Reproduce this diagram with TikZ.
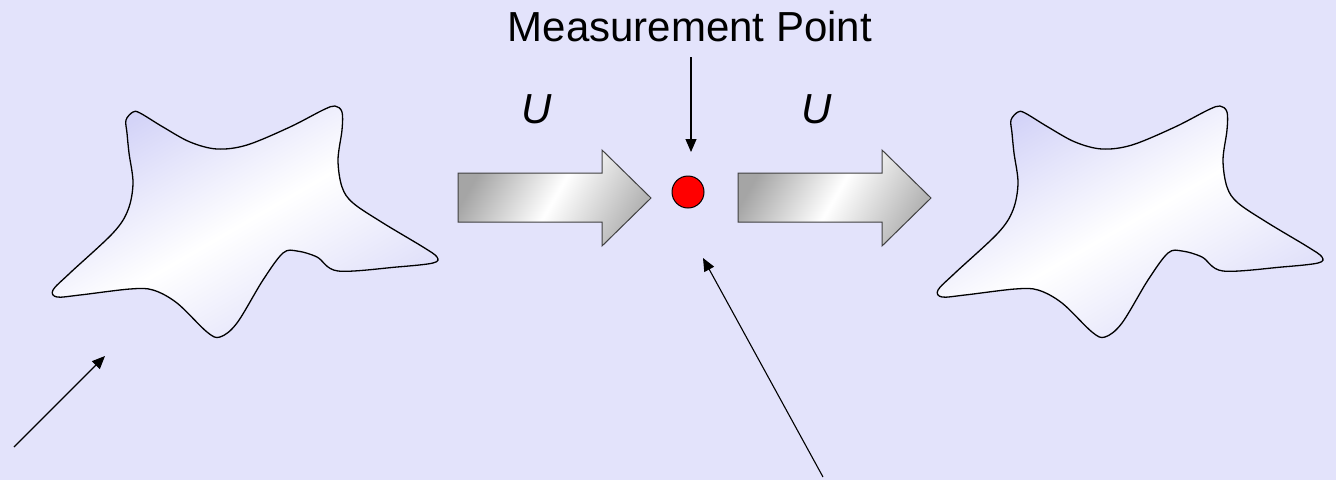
\documentclass[tikz,border=0pt]{standalone}
\usepackage{fontspec}
\setmainfont{Liberation Sans}
\usetikzlibrary{arrows.meta}
\definecolor{bg}{RGB}{227,227,251}
\definecolor{lav}{RGB}{212,212,248}
\definecolor{lavb}{RGB}{220,220,249}
\definecolor{grdark}{RGB}{165,165,165}
\definecolor{grlight}{RGB}{180,180,180}
\tikzset{
  blob/.style={draw=black, line width=1.3pt, top color=lav, bottom color=lavb, middle color=white, shading angle=30},
  bigarrow/.style={draw=black!75, line width=1pt, top color=grdark, bottom color=grlight, middle color=white, shading angle=60},
  lbl/.style={font=\fontsize{42}{50}\selectfont, inner sep=0pt, text=black},
  ptr/.style={draw=black, line width=1.1pt, -{Triangle[length=13pt,width=11pt]}},
  dotstyle/.style={circle, draw=black, line width=1pt, fill=red, minimum size=32pt, inner sep=0pt}
}
\newcommand{\starshape}{plot[smooth cycle, tension=0.55] coordinates {
 (126,120) (133,112) (140,113) (163,127) (190,142) (217,149) (247,145) (290,127)
 (323,110) (335,106) (342,112) (342,130) (338,160) (342,187) (353,203) (383,223)
 (423,247) (437,257) (433,263) (397,267) (338,271) (317,257) (297,251) (283,253)
 (263,280) (237,323) (220,337) (207,332) (177,303) (153,290) (130,289) (80,295)
 (57,297) (53,290) (70,273) (113,233) (128,210) (133,183) (129,153) (127,133)}}
\begin{document}
\begin{tikzpicture}[x=1pt,y=-1pt]
\useasboundingbox (0,0) rectangle (1336,480);
\fill[bg] (0,0) rectangle (1336,480);

% stars
\path[blob] \starshape;
\begin{scope}[shift={(885,0)}]
\path[blob] \starshape;
\end{scope}

% big arrows
\path[bigarrow] (458,173) -- (602,173) -- (602,150) -- (651,198) -- (602,246) -- (602,222) -- (458,222) -- cycle;
\path[bigarrow] (738,173) -- (882,173) -- (882,150) -- (931,198) -- (882,246) -- (882,222) -- (738,222) -- cycle;

% labels
\node[lbl, anchor=base] (mp) at (690,41) {Measurement Point};
\node[lbl, anchor=base] (u1) at (537,123) {\itshape U};
\node[lbl, anchor=base] (u2) at (817,123) {\itshape U};

% measurement point
\node[dotstyle] (dot) at (688,192) {};

% connectors
\coordinate (mpa) at (691,57);
\coordinate (mpt) at (691,152);
\draw[ptr] (mpa) -- (mpt);

\coordinate (bla) at (14,447);
\coordinate (blt) at (105,356);
\draw[ptr] (bla) -- (blt);

\coordinate (bca) at (823,477);
\coordinate (bct) at (703,258);
\draw[ptr] (bca) -- (bct);
\end{tikzpicture}
\end{document}
